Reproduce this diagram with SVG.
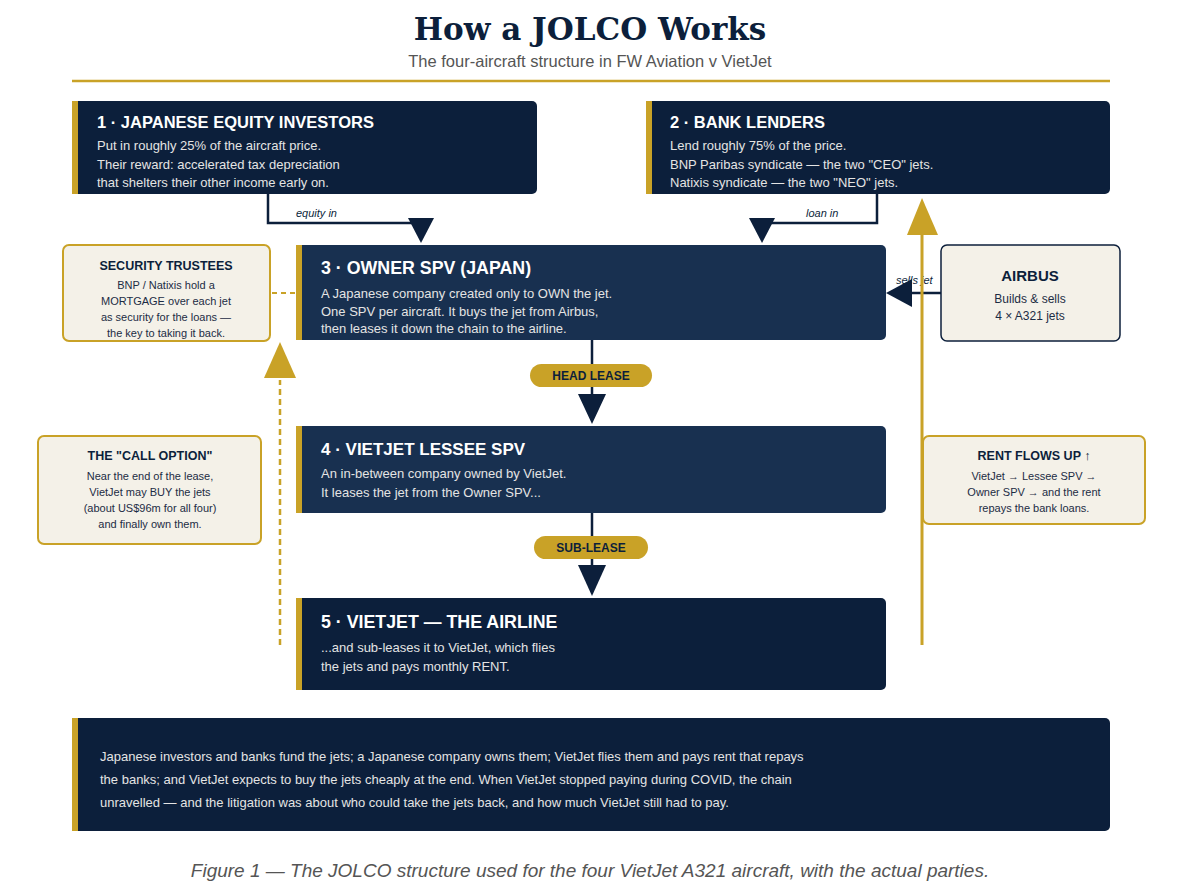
<svg xmlns="http://www.w3.org/2000/svg" width="1180" height="896" viewBox="0 0 1180 896">
<style>
.sans{font-family:"Liberation Sans",Arial,sans-serif}
.dark{fill:#0c1f3b}
.mid{fill:#183050}
.bar{fill:#c9a227}
.ntitle{font-family:"Liberation Sans",Arial,sans-serif;font-weight:bold;font-size:16.5px;fill:#ffffff}
.big{font-size:17.8px}
.med{font-size:17px}
.nbody{font-family:"Liberation Sans",Arial,sans-serif;font-size:13px;fill:#e4e4e4}
.note{fill:#f4f1e8;stroke:#c9a227;stroke-width:2}
.ntt{font-family:"Liberation Sans",Arial,sans-serif;font-weight:bold;font-size:12.5px;fill:#0c1f3b;text-anchor:middle}
.ntb{font-family:"Liberation Sans",Arial,sans-serif;font-size:11px;fill:#1c2c44;text-anchor:middle}
.abt{font-size:15px}
.abb{font-size:12px}
.conn{fill:none;stroke:#0c1f3b;stroke-width:2.5}
.lbl{font-family:"Liberation Sans",Arial,sans-serif;font-style:italic;font-size:11px;fill:#0c1f3b}
.pill{fill:#c9a227}
.pt{font-family:"Liberation Sans",Arial,sans-serif;font-weight:bold;font-size:12px;fill:#0c1f3b;text-anchor:middle}
</style>
<rect width="1180" height="896" fill="#ffffff"/>
<g id="header">
<text x="590" y="40" text-anchor="middle" font-family="'DejaVu Serif',serif" font-weight="bold" font-size="31" fill="#0c1f3b">How a JOLCO Works</text>
<text x="590" y="67" text-anchor="middle" class="sans" font-size="16.5" fill="#555555">The four-aircraft structure in FW Aviation v VietJet</text>
<line x1="72" y1="81" x2="1110" y2="81" stroke="#c9a227" stroke-width="2.5"/>
</g>
<g id="connectors">
<polyline class="conn" points="268,194 268,223 412,223"/>
<polygon fill="#0c1f3b" points="408,218 434,218 421,243"/>
<text class="lbl" x="296" y="217">equity in</text>
<polyline class="conn" points="877,194 877,223 770,223"/>
<polygon fill="#0c1f3b" points="749,218 775,218 762,243"/>
<text class="lbl" x="806" y="217">loan in</text>
<line class="conn" x1="592" y1="340" x2="592" y2="396"/>
<polygon fill="#0c1f3b" points="578,394 606,394 592,424"/>
<line class="conn" x1="592" y1="513" x2="592" y2="566"/>
<polygon fill="#0c1f3b" points="578,565 606,565 592,596"/>
<line class="conn" x1="941" y1="293" x2="908" y2="293"/>
<polygon fill="#0c1f3b" points="912,279 912,307 886,293"/>
<text class="lbl" x="896" y="284">sells jet</text>
<line x1="922" y1="645" x2="922" y2="232" stroke="#c9a227" stroke-width="3"/>
<polygon fill="#c9a227" points="907,235 938,235 922,198"/>
<line x1="280" y1="645" x2="280" y2="380" stroke="#c9a227" stroke-width="2.5" stroke-dasharray="6,4"/>
<polygon fill="#c9a227" points="264,378 296,378 280,342"/>
<line x1="272" y1="293" x2="296" y2="293" stroke="#c9a227" stroke-width="2" stroke-dasharray="5,4"/>
<rect class="pill" x="530" y="364" width="122" height="23" rx="11.5"/>
<text class="pt" x="591" y="380">HEAD LEASE</text>
<rect class="pill" x="534" y="536" width="114" height="23" rx="11.5"/>
<text class="pt" x="591" y="552">SUB-LEASE</text>
</g>
<g id="node1">
<rect class="dark" x="72" y="101" width="465" height="93" rx="5"/>
<rect class="bar" x="72" y="101" width="6" height="93"/>
<text class="ntitle" x="97" y="128">1 · JAPANESE EQUITY INVESTORS</text>
<text class="nbody" x="97" y="150">Put in roughly 25% of the aircraft price.</text>
<text class="nbody" x="97" y="169">Their reward: accelerated tax depreciation</text>
<text class="nbody" x="97" y="187">that shelters their other income early on.</text>
</g>
<g id="node2">
<rect class="dark" x="646" y="101" width="464" height="93" rx="5"/>
<rect class="bar" x="646" y="101" width="6" height="93"/>
<text class="ntitle" x="670" y="128">2 · BANK LENDERS</text>
<text class="nbody" x="670" y="150">Lend roughly 75% of the price.</text>
<text class="nbody" x="670" y="169">BNP Paribas syndicate — the two "CEO" jets.</text>
<text class="nbody" x="670" y="187">Natixis syndicate — the two "NEO" jets.</text>
</g>
<g id="node3">
<rect class="mid" x="296" y="245" width="590" height="95" rx="5"/>
<rect class="bar" x="296" y="245" width="6" height="95"/>
<text class="ntitle big" x="321" y="274">3 · OWNER SPV (JAPAN)</text>
<text class="nbody" x="321" y="298">A Japanese company created only to OWN the jet.</text>
<text class="nbody" x="321" y="316">One SPV per aircraft. It buys the jet from Airbus,</text>
<text class="nbody" x="321" y="333">then leases it down the chain to the airline.</text>
</g>
<g id="node4">
<rect class="mid" x="296" y="426" width="590" height="87" rx="5"/>
<rect class="bar" x="296" y="426" width="6" height="87"/>
<text class="ntitle med" x="321" y="455">4 · VIETJET LESSEE SPV</text>
<text class="nbody" x="321" y="478">An in-between company owned by VietJet.</text>
<text class="nbody" x="321" y="497">It leases the jet from the Owner SPV...</text>
</g>
<g id="node5">
<rect class="dark" x="296" y="598" width="590" height="92" rx="5"/>
<rect class="bar" x="296" y="598" width="6" height="92"/>
<text class="ntitle big" x="321" y="628">5 · VIETJET — THE AIRLINE</text>
<text class="nbody" x="321" y="652">...and sub-leases it to VietJet, which flies</text>
<text class="nbody" x="321" y="671">the jets and pays monthly RENT.</text>
</g>
<g id="trustees">
<rect class="note" x="63" y="245" width="207" height="96" rx="6"/>
<text class="ntt" x="166" y="270">SECURITY TRUSTEES</text>
<text class="ntb" x="166" y="289">BNP / Natixis hold a</text>
<text class="ntb" x="166" y="305">MORTGAGE over each jet</text>
<text class="ntb" x="166" y="321">as security for the loans —</text>
<text class="ntb" x="166" y="337">the key to taking it back.</text>
</g>
<g id="calloption">
<rect class="note" x="38" y="436" width="223" height="108" rx="6"/>
<text class="ntt" x="150" y="460">THE "CALL OPTION"</text>
<text class="ntb" x="150" y="480">Near the end of the lease,</text>
<text class="ntb" x="150" y="496">VietJet may BUY the jets</text>
<text class="ntb" x="150" y="512">(about US$96m for all four)</text>
<text class="ntb" x="150" y="528">and finally own them.</text>
</g>
<g id="airbus">
<rect x="941" y="245" width="179" height="96" rx="6" fill="#f4f1e8" stroke="#0c1f3b" stroke-width="1.5"/>
<text class="ntt abt" x="1030" y="281">AIRBUS</text>
<text class="ntb abb" x="1030" y="303">Builds &amp; sells</text>
<text class="ntb abb" x="1030" y="320">4 × A321 jets</text>
</g>
<g id="rentflows">
<rect class="note" x="923" y="436" width="222" height="88" rx="6"/>
<text class="ntt" x="1034" y="460">RENT FLOWS UP ↑</text>
<text class="ntb" x="1034" y="480">VietJet → Lessee SPV →</text>
<text class="ntb" x="1034" y="496">Owner SPV → and the rent</text>
<text class="ntb" x="1034" y="512">repays the bank loans.</text>
</g>
<g id="summary">
<rect class="dark" x="72" y="718" width="1038" height="113" rx="5"/>
<rect class="bar" x="72" y="718" width="6" height="113"/>
<text class="nbody" x="100" y="761">Japanese investors and banks fund the jets; a Japanese company owns them; VietJet flies them and pays rent that repays</text>
<text class="nbody" x="100" y="784">the banks; and VietJet expects to buy the jets cheaply at the end. When VietJet stopped paying during COVID, the chain</text>
<text class="nbody" x="100" y="807">unravelled — and the litigation was about who could take the jets back, and how much VietJet still had to pay.</text>
</g>
<g id="caption">
<text x="590" y="877" text-anchor="middle" class="sans" font-style="italic" font-size="19" fill="#555555">Figure 1 — The JOLCO structure used for the four VietJet A321 aircraft, with the actual parties.</text>
</g>
</svg>
